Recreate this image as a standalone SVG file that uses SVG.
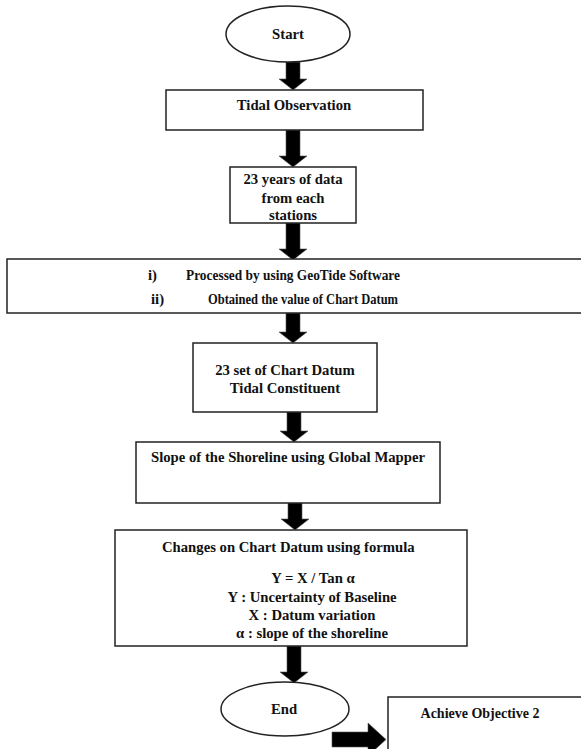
<svg xmlns="http://www.w3.org/2000/svg" width="581" height="749" viewBox="0 0 581 749">
<style>
.box{fill:#fff;stroke:#222;stroke-width:1.5}
.t{font-family:"Liberation Serif","Times New Roman","DejaVu Serif",serif;font-weight:bold;font-size:14.7px;fill:#111}
.m{text-anchor:middle}
.arr{fill:#000;stroke:#555;stroke-width:0.6}
</style>
<rect width="581" height="749" fill="#fff"/>
<g id="connectors">
<polygon class="arr" points="286,62 300,62 300,79 307,79 293,90 279,79 286,79"/>
<polygon class="arr" points="286,130 300,130 300,156 307,156 293,167 279,156 286,156"/>
<polygon class="arr" points="286,223 300,223 300,249 307,249 293,260 279,249 286,249"/>
<polygon class="arr" points="286,313 300,313 300,332 307,332 293,343 279,332 286,332"/>
<polygon class="arr" points="287,412 301,412 301,431 308,431 294,442 280,431 287,431"/>
<polygon class="arr" points="288,503 302,503 302,519 309,519 295,530 281,519 288,519"/>
<polygon class="arr" points="287,646 301,646 301,672 308,672 294,683 280,672 287,672"/>
<polygon class="arr" points="332,732 368,732 368,723 386,739.5 368,756 368,747 332,747"/>
</g>
<g id="start">
<ellipse class="box" cx="288" cy="34" rx="62" ry="28"/>
<text class="t m" x="288" y="39">Start</text>
</g>
<g id="tidal-observation">
<rect class="box" x="166" y="90" width="257" height="40"/>
<text class="t m" x="294" y="110">Tidal Observation</text>
</g>
<g id="years-data">
<rect class="box" x="230" y="167" width="126" height="56"/>
<text class="t m" x="293" y="184">23 years of data</text>
<text class="t m" x="293" y="203">from each</text>
<text class="t m" x="293" y="220">stations</text>
</g>
<g id="processing">
<rect class="box" x="7" y="259" width="580" height="54"/>
<text class="t" x="148" y="280">i)</text>
<text class="t" x="186" y="280" textLength="214" lengthAdjust="spacingAndGlyphs">Processed by using GeoTide Software</text>
<text class="t" x="151" y="304">ii)</text>
<text class="t" x="208" y="304" textLength="190" lengthAdjust="spacingAndGlyphs">Obtained the value of Chart Datum</text>
</g>
<g id="chart-datum-set">
<rect class="box" x="193" y="343" width="184" height="69"/>
<text class="t m" x="285" y="375">23 set of Chart Datum</text>
<text class="t m" x="285" y="393">Tidal Constituent</text>
</g>
<g id="slope">
<rect class="box" x="136" y="442" width="304" height="61"/>
<text class="t m" x="288" y="462">Slope of the Shoreline using Global Mapper</text>
</g>
<g id="changes">
<rect class="box" x="115" y="530" width="352" height="116"/>
<text class="t" x="162" y="552">Changes on Chart Datum using formula</text>
<text class="t m" x="313" y="583">Y = X / Tan α</text>
<text class="t m" x="312" y="602">Y : Uncertainty of Baseline</text>
<text class="t m" x="312" y="620">X : Datum variation</text>
<text class="t m" x="312" y="638">α : slope of the shoreline</text>
</g>
<g id="end">
<ellipse class="box" cx="285" cy="709" rx="64" ry="27"/>
<text class="t m" x="284" y="714">End</text>
</g>
<g id="achieve">
<rect class="box" x="388" y="697" width="200" height="60"/>
<text class="t m" x="480" y="718" style="font-size:14px">Achieve Objective 2</text>
</g>
</svg>
